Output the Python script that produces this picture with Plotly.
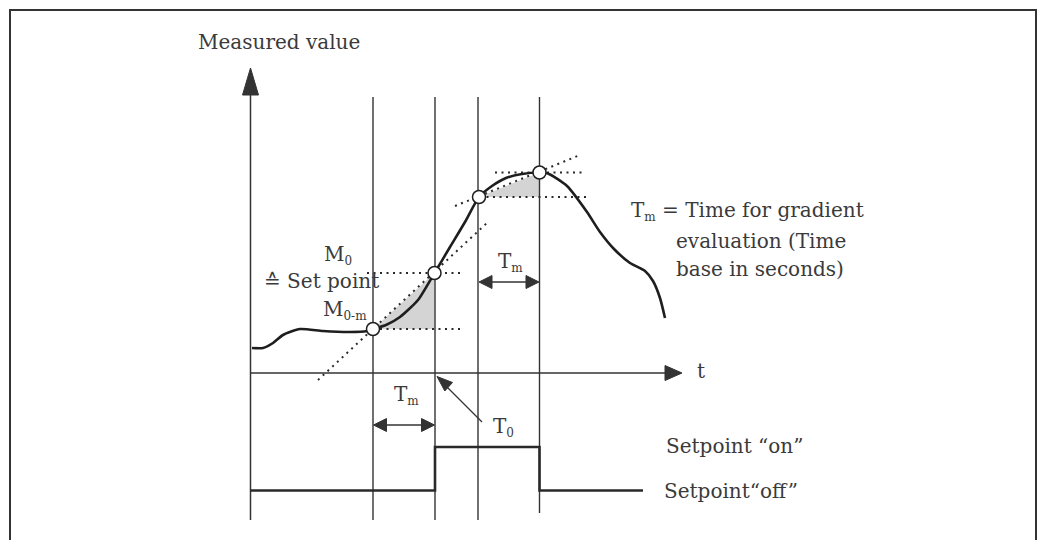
import plotly.graph_objects as go

# Diagram coordinates: t runs left to right, value axis runs top to bottom (screen-like units)
INK = "#333333"
FILL = "#d4d4d4"
FONT = "DejaVu Serif"

# Measured value curve
curve_t = [252, 263, 273, 283, 300, 323, 350, 367, 373, 386, 400, 418, 434.5,
           450, 465, 479, 492, 506, 522, 539.5, 548, 567, 587, 600, 614, 630, 645,
           653, 660, 665]
curve_v = [348, 348, 343, 335, 329, 331, 332, 331, 329, 325, 317, 300, 273,
           247, 222, 197, 186, 178, 174, 172.5, 173.5, 186, 212, 232, 249, 263, 271,
           281, 298, 318]

# Evaluation points on the curve
point_t = [373, 434.5, 479, 539.5]
point_v = [329, 273, 197, 172.5]

# Time markers (vertical guides)
guide_t = [373, 435, 478, 539.5]
guide_top = [97, 97, 97, 97]
guide_bottom = [520, 520, 520, 513]

# Gradient triangles
tri1_t = [373, 434.5, 434.5, 373]
tri1_v = [329, 329, 273, 329]
tri2_t = [479, 539.5, 539.5, 479]
tri2_v = [197, 197, 172.5, 197]

# Dotted helper lines (start, end)
dotted_lines = [
    ([318, 488], [380, 222]),      # lower tangent
    ([455, 580], [206, 155]),      # upper tangent
    ([367, 462], [273, 273]),      # M0 level
    ([380, 462], [329, 329]),      # M0-m level
    ([495, 582], [172.5, 172.5]),  # peak level
    ([480, 587], [197, 197]),      # upper start level
]

# Setpoint switching signal
step_t = [250, 435, 435, 539.5, 539.5, 643]
step_v = [490.5, 490.5, 447, 447, 490.5, 490.5]

fig = go.Figure()

# frame
fig.add_trace(go.Scatter(x=[10, 10, 1036, 1036], y=[545, 10, 10, 545], mode="lines",
                         line=dict(color=INK, width=2), hoverinfo="skip"))

# grey gradient triangles
for tt, tv in [(tri1_t, tri1_v), (tri2_t, tri2_v)]:
    fig.add_trace(go.Scatter(x=tt, y=tv, fill="toself", fillcolor=FILL, mode="none",
                             hoverinfo="skip"))

# vertical guides
for gt, g0, g1 in zip(guide_t, guide_top, guide_bottom):
    fig.add_trace(go.Scatter(x=[gt, gt], y=[g0, g1], mode="lines",
                             line=dict(color=INK, width=1.4), hoverinfo="skip"))

# axes
fig.add_trace(go.Scatter(x=[250.5, 250.5], y=[90, 520], mode="lines",
                         line=dict(color=INK, width=1.5), hoverinfo="skip"))
fig.add_trace(go.Scatter(x=[242.5, 250.5, 258.5, 242.5], y=[95, 68, 95, 95], fill="toself",
                         fillcolor=INK, mode="lines", line=dict(color=INK, width=1),
                         hoverinfo="skip"))
fig.add_trace(go.Scatter(x=[250, 668], y=[373, 373], mode="lines",
                         line=dict(color=INK, width=1.5), hoverinfo="skip"))
fig.add_trace(go.Scatter(x=[665, 682, 665, 665], y=[365.5, 373, 380.5, 365.5], fill="toself",
                         fillcolor=INK, mode="lines", line=dict(color=INK, width=1),
                         hoverinfo="skip"))

# dotted helper lines
for lt, lv in dotted_lines:
    fig.add_trace(go.Scatter(x=lt, y=lv, mode="lines",
                             line=dict(color="#2a2a2a", width=2, dash="2px,4.5px"),
                             hoverinfo="skip"))

# measured value curve
fig.add_trace(go.Scatter(x=curve_t, y=curve_v, mode="lines",
                         line=dict(color="#1e1e1e", width=2.6, shape="spline", smoothing=0.6),
                         hoverinfo="skip"))

# evaluation points
fig.add_trace(go.Scatter(x=point_t, y=point_v, mode="markers",
                         marker=dict(size=13, color="white", line=dict(color="#1e1e1e", width=1.5)),
                         hoverinfo="skip"))

# setpoint signal
fig.add_trace(go.Scatter(x=step_t, y=step_v, mode="lines",
                         line=dict(color="#2a2a2a", width=2.6), hoverinfo="skip"))


def double_arrow(x0, x1, y):
    fig.add_trace(go.Scatter(x=[x0 + 12, x1 - 12], y=[y, y], mode="lines",
                             line=dict(color=INK, width=1.5), hoverinfo="skip"))
    for tip, base in [(x0, x0 + 13), (x1, x1 - 13)]:
        fig.add_trace(go.Scatter(x=[base, tip, base, base], y=[y - 6.5, y, y + 6.5, y - 6.5],
                                 fill="toself", fillcolor=INK, mode="lines",
                                 line=dict(color=INK, width=1), hoverinfo="skip"))


double_arrow(479, 539, 282)
double_arrow(373.5, 434.5, 425)

# T0 pointer
fig.add_trace(go.Scatter(x=[482, 444], y=[422, 384], mode="lines",
                         line=dict(color=INK, width=1.3), hoverinfo="skip"))
fig.add_trace(go.Scatter(x=[437, 452.5, 444.8, 437], y=[376.5, 382.5, 391.0, 376.5],
                         fill="toself", fillcolor=INK, mode="lines",
                         line=dict(color=INK, width=1), hoverinfo="skip"))

SUB = "<sub><span style='font-size:12px'>{}</span></sub>"
CORR = "<span style='font-family:DejaVu Sans'>\u2259</span>"

labels = [
    ("Measured value", 196, 42),
    ("M" + SUB.format("0"), 322, 255),
    (CORR + " Set point", 262, 281),
    ("M" + SUB.format("0-m"), 321, 310),
    ("T" + SUB.format("m") + " = Time for gradient", 629, 211),
    ("evaluation (Time", 674, 241),
    ("base in seconds)", 674, 269),
    ("T" + SUB.format("m"), 496, 262),
    ("T" + SUB.format("m"), 392, 395),
    ("T" + SUB.format("0"), 491, 427),
    ("t", 695, 371),
    ("Setpoint \u201con\u201d", 664, 446),
    ("Setpoint\u201coff\u201d", 662, 491),
]
for text, x, y in labels:
    fig.add_annotation(x=x, y=y, text=text, showarrow=False, xanchor="left", yanchor="middle",
                       font=dict(family=FONT, size=20, color="#3a3a3a"))

fig.update_layout(
    width=1041, height=540,
    margin=dict(l=0, r=0, t=0, b=0),
    paper_bgcolor="white", plot_bgcolor="white",
    showlegend=False,
    xaxis=dict(range=[0, 1041], visible=False, fixedrange=True),
    yaxis=dict(range=[540, 0], visible=False, fixedrange=True),
)

fig.write_html("out.html")
